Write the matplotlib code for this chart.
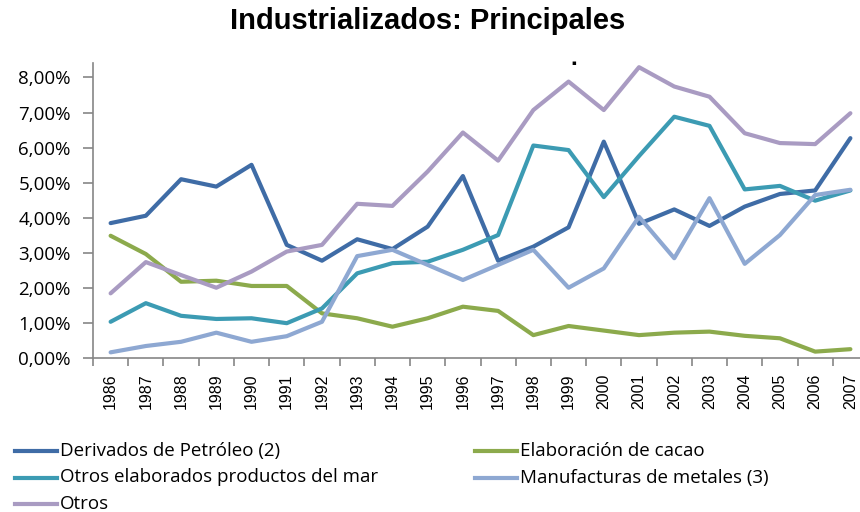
import numpy as np
import matplotlib
matplotlib.use('Agg')
import matplotlib.pyplot as plt
from matplotlib.lines import Line2D
from matplotlib.ticker import FixedLocator, FuncFormatter

# datos (porcentaje)
years = [str(y) for y in range(1986, 2008)]
derivados = [3.85, 4.06, 5.10, 4.89, 5.51, 3.23, 2.78, 3.39, 3.11, 3.75, 5.19,
             2.78, 3.18, 3.73, 6.17, 3.83, 4.24, 3.77, 4.32, 4.68, 4.78, 6.27]
cacao = [3.49, 2.97, 2.18, 2.21, 2.06, 2.06, 1.28, 1.14, 0.90, 1.14, 1.47,
         1.35, 0.66, 0.92, 0.79, 0.66, 0.73, 0.76, 0.64, 0.57, 0.19, 0.26]
mar = [1.04, 1.57, 1.21, 1.12, 1.14, 1.00, 1.42, 2.42, 2.71, 2.75, 3.09,
       3.51, 6.06, 5.93, 4.59, 5.76, 6.88, 6.62, 4.81, 4.91, 4.49, 4.78]
metales = [0.17, 0.35, 0.47, 0.73, 0.47, 0.63, 1.04, 2.91, 3.09, 2.66, 2.23,
           2.66, 3.09, 2.01, 2.56, 4.03, 2.85, 4.56, 2.69, 3.51, 4.65, 4.80]
otros = [1.85, 2.74, 2.37, 2.01, 2.47, 3.04, 3.23, 4.40, 4.34, 5.32, 6.43,
         5.63, 7.07, 7.88, 7.07, 8.29, 7.74, 7.45, 6.41, 6.13, 6.10, 6.98]

names = ['Derivados de Petróleo (2)', 'Elaboración de cacao',
         'Otros elaborados productos del mar', 'Manufacturas de metales (3)',
         'Otros']
colors = ['#3F6CA6', '#8CAA4C', '#3C9BB3', '#8EA8D2', '#A99BC2']
series = [derivados, cacao, mar, metales, otros]

W, H = 860, 512
fig = plt.figure(figsize=(8.6, 5.12), dpi=100)
ax = fig.add_axes([93 / W, 1 - 358.3 / H, 775 / W, (358.3 - 63) / H])

x = np.arange(len(years))
for vals, name, col in zip(series, names, colors):
    ax.plot(x, vals, color=col, lw=3.0, label=name, solid_capstyle='round')

ax.set_xlim(-0.5, len(years) - 0.5)
ax.set_ylim(0, 8.41)
ax.set_yticks(np.arange(0, 9, 1))
ax.yaxis.set_major_formatter(FuncFormatter(lambda v, p: f'{v:.2f}%'.replace('.', ',')))
ax.set_xticks(x)
ax.set_xticklabels(years, rotation=90, fontsize=11.5, family='Liberation Sans')
ax.xaxis.set_minor_locator(FixedLocator(np.arange(-0.5, len(years), 1)))
ax.tick_params(axis='x', which='major', length=0, pad=11)
ax.tick_params(axis='x', which='minor', length=6, color='#868686', width=1.2)
ax.tick_params(axis='y', length=7, color='#868686', width=1.2, labelsize=13.5, pad=9)
for lab in ax.get_yticklabels():
    lab.set_family('Open Sans')

for s in ['top', 'right']:
    ax.spines[s].set_visible(False)
for s in ['left', 'bottom']:
    ax.spines[s].set_color('#868686')
    ax.spines[s].set_linewidth(1.2)

fig.text(428 / W, 1 - 21 / H, 'Industrializados: Principales', ha='center', va='center',
         fontsize=21, fontweight='bold', family='Liberation Sans')

# marca suelta sobre el gráfico
fig.text(574 / W, 1 - 63 / H, '▪', fontsize=5, ha='center', va='center', color='black')

# leyenda en dos columnas, filas por orden
leg_x = [15, 475]
leg_y = [451, 477.5, 504]
for i, (name, col) in enumerate(zip(names, colors)):
    r, c = divmod(i, 2)
    x0 = leg_x[c]
    yy = 1 - leg_y[r] / H
    fig.add_artist(Line2D([x0 / W, (x0 + 42) / W], [yy, yy], color=col, lw=3.0,
                          transform=fig.transFigure))
    fig.text((x0 + 45) / W, yy, name, ha='left', va='center', fontsize=13.5,
             family='Open Sans', color='black')

fig.savefig('out.png', dpi=100)
